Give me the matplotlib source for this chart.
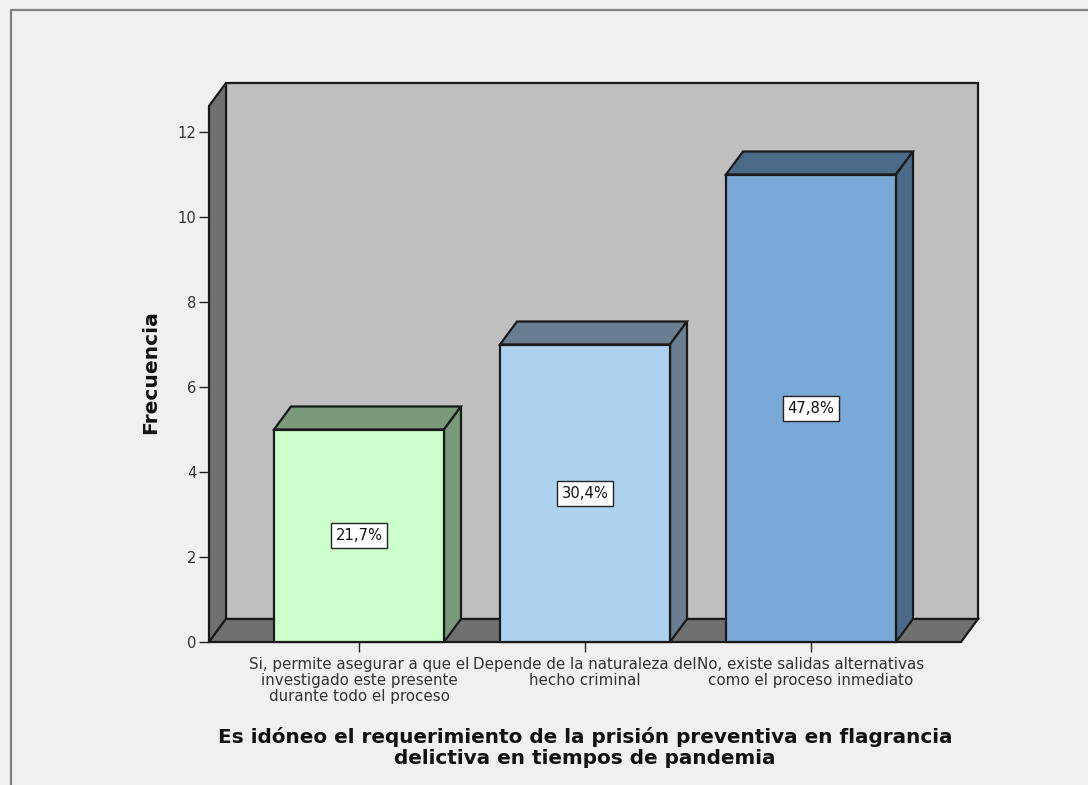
import matplotlib
matplotlib.use("Agg")
import matplotlib.pyplot as plt
from matplotlib.patches import Polygon, Rectangle
from matplotlib.lines import Line2D

categories = ["Si, permite asegurar a que el\ninvestigado este presente\ndurante todo el proceso",
              "Depende de la naturaleza del\nhecho criminal",
              "No, existe salidas alternativas\ncomo el proceso inmediato"]
values = [5, 7, 11]
pct_labels = ["21,7%", "30,4%", "47,8%"]
front_colors = ["#CCFFCC", "#AED1EF", "#7BA9D7"]
shade_colors = ["#7A9A7A", "#697E90", "#4A6A88"]
yticks = [0, 2, 4, 6, 8, 10, 12]
xlabel = "Es idóneo el requerimiento de la prisión preventiva en flagrancia\ndelictiva en tiempos de pandemia"
ylabel = "Frecuencia"

W, H = 1088, 785
plt.rcParams['font.family'] = ['DejaVu Sans']
fig = plt.figure(figsize=(W / 100, H / 100), dpi=100, facecolor="#F0F0F0")

# outer frame
fig.add_artist(Line2D([10.5 / W, 10.5 / W, 1], [0, 1 - 9.5 / H, 1 - 9.5 / H],
                      transform=fig.transFigure, color="#808080", lw=1.6))

ax = fig.add_axes([209 / W, 1 - 642 / H, 752 / W, 536 / H])
unit_x, unit_y = 226.0, 42.5          # pixels per data unit
xmin, xmax = -150 / unit_x, 602 / unit_x
ymax = 536 / unit_y
ax.set_xlim(xmin, xmax)
ax.set_ylim(0, ymax)
ax.patch.set_visible(False)
for s in ax.spines.values():
    s.set_visible(False)

dx, dy = 17 / unit_x, 23 / unit_y     # 3-D depth
bw = 170 / unit_x
EDGE = "#1A1A1A"
LW = 1.6


def poly(pts, fc, z):
    ax.add_patch(Polygon(pts, closed=True, fc=fc, ec=EDGE, lw=LW, clip_on=False,
                         joinstyle="miter", zorder=z))


# walls and floor
poly([(xmin + dx, dy), (xmax + dx, dy), (xmax + dx, ymax + dy), (xmin + dx, ymax + dy)], "#BFBFBF", 1)
poly([(xmin, 0), (xmin + dx, dy), (xmin + dx, ymax + dy), (xmin, ymax)], "#707070", 1.1)
poly([(xmin, 0), (xmax, 0), (xmax + dx, dy), (xmin + dx, dy)], "#707070", 1.2)

# bars
for i, v in enumerate(values):
    l, r = i - bw / 2, i + bw / 2
    poly([(l, v), (r, v), (r + dx, v + dy), (l + dx, v + dy)], shade_colors[i], 2)
    poly([(r, 0), (r + dx, dy), (r + dx, v + dy), (r, v)], shade_colors[i], 2)
    ax.add_patch(Rectangle((l, 0), bw, v, fc=front_colors[i], ec=EDGE, lw=LW, clip_on=False, zorder=3))
    ax.text(i, v / 2, pct_labels[i], ha="center", va="center", fontsize=10.6, color="#111111", zorder=5,
            bbox=dict(boxstyle="square,pad=0.33", fc="white", ec="#222222", lw=1))

ax.set_yticks(yticks)
ax.set_yticklabels([str(t) for t in yticks])
ax.set_xticks(range(len(categories)))
ax.set_xticklabels(categories, linespacing=1.1)
ax.tick_params(axis="y", length=7.5, width=1, color="#222222", labelsize=10.6, labelcolor="#333333", pad=1.5)
ax.tick_params(axis="x", length=7.5, width=1, color="#222222", labelsize=10.9, labelcolor="#333333", pad=3)

fig.text(151 / W, 1 - 372 / H, ylabel, rotation=90, ha="center", va="center",
         fontsize=14.6, fontweight="bold", color="#111111")
fig.text(585 / W, 1 - 747.5 / H, xlabel, ha="center", va="center", fontsize=14.4,
         fontweight="bold", color="#111111", linespacing=1.1)

fig.savefig("out.png", dpi=100, facecolor=fig.get_facecolor())
